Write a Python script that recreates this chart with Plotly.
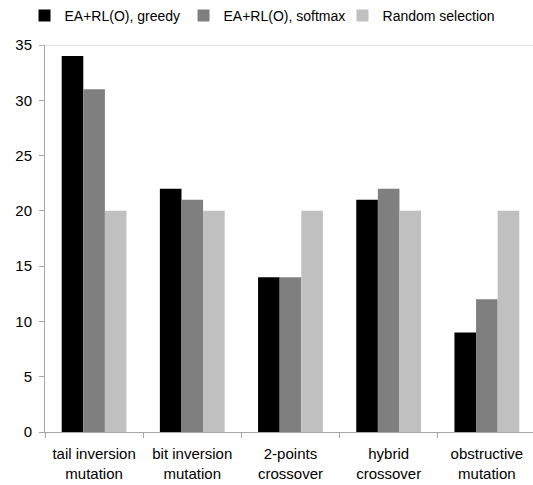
import plotly.graph_objects as go

categories = ["tail inversion<br>mutation", "bit inversion<br>mutation", "2-points<br>crossover",
              "hybrid<br>crossover", "obstructive<br>mutation"]
series_names = ["EA+RL(O), greedy", "EA+RL(O), softmax", "Random selection"]
greedy = [34, 22, 14, 21, 9]
softmax = [31, 21, 14, 22, 12]
random_sel = [20, 20, 20, 20, 20]
y_ticks = [0, 5, 10, 15, 20, 25, 30, 35]

colors = ["#000000", "#7f7f7f", "#c0c0c0"]
FONT = "Liberation Sans, Arial, sans-serif"

fig = go.Figure()
for name, vals, col in zip(series_names, [greedy, softmax, random_sel], colors):
    fig.add_trace(go.Bar(x=categories, y=vals, name=name, marker=dict(color=col, line=dict(width=0))))

fig.update_layout(
    width=533, height=485,
    margin=dict(l=45, r=0, t=45, b=53),
    paper_bgcolor="white", plot_bgcolor="white",
    barmode="group", bargap=0.34, bargroupgap=0,
    font=dict(family=FONT, size=15, color="#000000"),
    showlegend=True,
    legend=dict(orientation="h", xref="container", x=0.046, xanchor="left",
                yref="container", y=1.0, yanchor="top",
                font=dict(size=14, family=FONT), itemwidth=30, entrywidth=114,
                tracegroupgap=0, bgcolor="rgba(0,0,0,0)"),
    xaxis=dict(type="category", range=[-0.5, 4.47], showline=True, linecolor="#a6a6a6", linewidth=1,
               ticks="outside", tickson="boundaries", ticklen=5, tickcolor="#a6a6a6",
               showgrid=False, tickfont=dict(size=15, family=FONT), ticklabelstandoff=8),
    yaxis=dict(range=[0, 35], tickvals=y_ticks, showline=True, linecolor="#a6a6a6", linewidth=1,
               ticks="outside", ticklen=5, tickcolor="#a6a6a6", showgrid=False, zeroline=False,
               tickfont=dict(size=15, family=FONT), ticklabelstandoff=4),
)
fig.add_shape(type="line", xref="paper", yref="y", x0=-0.012, x1=1, y0=35, y1=35,
              line=dict(color="#bfbfbf", width=1))
fig.write_html("out.html", config={"displayModeBar": False},
               post_script="document.body.style.margin='0px';document.body.style.overflow='hidden';")
